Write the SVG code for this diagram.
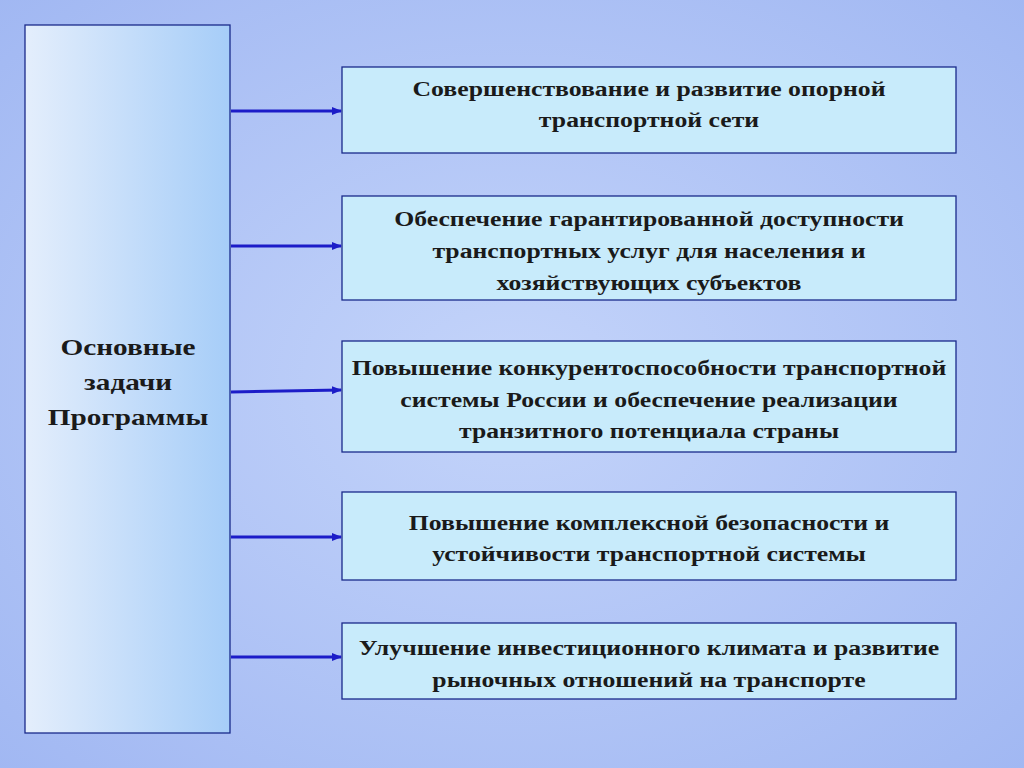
<svg xmlns="http://www.w3.org/2000/svg" width="1024" height="768" viewBox="0 0 1024 768">
<defs>
<radialGradient id="bg" cx="0.5" cy="0.5" r="0.75">
<stop offset="0" stop-color="#c4d4fa"/><stop offset="1" stop-color="#9fb6f2"/>
</radialGradient>
<linearGradient id="lb" x1="0" y1="0" x2="1" y2="0">
<stop offset="0" stop-color="#e4eefc"/><stop offset="1" stop-color="#a6cdf8"/>
</linearGradient>
<marker id="ah" markerWidth="10" markerHeight="8" refX="9" refY="4" orient="auto" markerUnits="userSpaceOnUse">
<path d="M0,0 L10,4 L0,8 Z" fill="#1c1cc8"/>
</marker>
</defs>
<style>
.box{fill:#c8ebfb;stroke:#1a2a8a;stroke-width:1.3}
.t{font-family:"Liberation Serif",serif;font-weight:bold;font-size:22px;fill:#1a1a1a;text-anchor:middle}
.c{stroke:#1c1cc8;stroke-width:3;fill:none;marker-end:url(#ah)}
</style>
<rect width="1024" height="768" fill="url(#bg)"/>
<g id="main"><rect x="25" y="25" width="205" height="708" fill="url(#lb)" stroke="#1a2a8a" stroke-width="1.3"/>
<g transform="translate(128 0) scale(1.22 1)">
<text class="t" x="0" y="355" style="font-size:24px">Основные</text>
<text class="t" x="0" y="390" style="font-size:24px">задачи</text>
<text class="t" x="0" y="425" style="font-size:24px">Программы</text></g></g>
<g id="connectors">
<line class="c" x1="231" y1="111" x2="341" y2="111"/>
<line class="c" x1="231" y1="246" x2="341" y2="246"/>
<line class="c" x1="231" y1="392" x2="341" y2="390"/>
<line class="c" x1="231" y1="537" x2="341" y2="537"/>
<line class="c" x1="231" y1="657" x2="341" y2="657"/>
</g>
<g id="n1"><rect class="box" x="342" y="67" width="614" height="86"/>
<g transform="translate(649 0) scale(1.17 1)">
<text class="t" x="0" y="96">Совершенствование и развитие опорной</text>
<text class="t" x="0" y="127">транспортной  сети</text></g></g>
<g id="n2"><rect class="box" x="342" y="196" width="614" height="104"/>
<g transform="translate(649 0) scale(1.17 1)">
<text class="t" x="0" y="226">Обеспечение гарантированной  доступности</text>
<text class="t" x="0" y="258">транспортных услуг для населения и</text>
<text class="t" x="0" y="290">хозяйствующих субъектов</text></g></g>
<g id="n3"><rect class="box" x="342" y="341" width="614" height="111"/>
<g transform="translate(649 0) scale(1.17 1)">
<text class="t" x="0" y="375">Повышение конкурентоспособности транспортной</text>
<text class="t" x="0" y="407">системы России и обеспечение реализации</text>
<text class="t" x="0" y="438">транзитного потенциала страны</text></g></g>
<g id="n4"><rect class="box" x="342" y="492" width="614" height="88"/>
<g transform="translate(649 0) scale(1.17 1)">
<text class="t" x="0" y="530">Повышение комплексной безопасности и</text>
<text class="t" x="0" y="561">устойчивости транспортной системы</text></g></g>
<g id="n5"><rect class="box" x="342" y="623" width="614" height="76"/>
<g transform="translate(649 0) scale(1.17 1)">
<text class="t" x="0" y="655">Улучшение инвестиционного климата и развитие</text>
<text class="t" x="0" y="687">рыночных отношений на транспорте</text></g></g>
</svg>
